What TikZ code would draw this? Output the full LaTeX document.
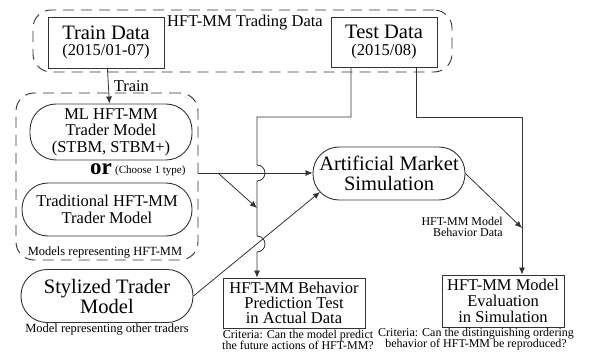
\documentclass[tikz,border=0pt]{standalone}
\usepackage{fontspec}
\setmainfont{Liberation Serif}
\usetikzlibrary{arrows.meta,positioning}
\newcommand{\tight}{\lineskiplimit=-20pt\lineskip=0pt}
\newcommand{\fbig}{\fontsize{20.5}{20}\selectfont\tight}
\newcommand{\fmid}{\fontsize{16.5}{16.5}\selectfont\tight}
\newcommand{\fsml}{\fontsize{12}{11}\selectfont\tight}
\definecolor{edge}{HTML}{333333}

\begin{document}
\begin{tikzpicture}[x=1pt, y=1pt,
  box/.style={draw=edge, line width=0.9pt, inner sep=0pt, align=center, font=\fmid},
  pill/.style={box, rounded corners=26pt},
  region/.style={draw=edge, line width=0.9pt, dash pattern=on 11pt off 7pt, rounded corners=18pt, inner sep=0pt},
  arr/.style={-{Latex[length=7pt,width=6pt]}, line width=0.8pt, draw=edge},
  lbl/.style={inner sep=0pt, align=center, font=\fsml}]
\useasboundingbox (0,0) rectangle (589,354);
% dashed groups
\node[region, minimum width=419, minimum height=62] (trading) at (242.5,313) {};
\node[region, minimum width=182, minimum height=167] (models) at (107,177.5) {};
% data boxes
\node[box, minimum width=116, minimum height=51] (train) at (106,311.5) {{\fbig Train Data}\\(2015/01-07)};
\node[box, minimum width=106, minimum height=50] (test) at (384,312) {{\fbig Test Data}\\(2015/08)};
\node[lbl, font=\fmid, anchor=base west] (tradinglbl) at (167,327) {HFT-MM Trading Data};
% trader models
\node[pill, minimum width=162, minimum height=56] (ml) at (111,222) {ML HFT-MM\\Trader Model\\(STBM, STBM+)};
\node[pill, minimum width=170, minimum height=53] (trad) at (107,144.5) {Traditional HFT-MM\\Trader Model};
\node[lbl, anchor=base west, font=\fontsize{23}{23}\selectfont\bfseries] (or) at (90,179) {or};
\node[lbl, anchor=base west, font=\fontsize{11}{11}\selectfont] (choose) at (115,180) {(Choose 1 type)};
\node[lbl, anchor=base, font=\fontsize{12.5}{12}\selectfont] (modelslbl) at (105,99) {Models representing HFT-MM};
\node[pill, minimum width=172, minimum height=53, font=\fbig] (sty) at (107,58) {Stylized Trader\\Model};
\node[lbl, below=1pt of sty, font=\fontsize{12.5}{12}\selectfont] (otherlbl) {Model representing other traders};
% simulation and tests
\node[pill, minimum width=152, minimum height=53, font=\fbig] (ams) at (389,180.5) {Artificial Market\\Simulation};
\node[box, minimum width=142, minimum height=50, font=\fontsize{16.5}{15}\selectfont\tight] (pred) at (294,51) {HFT-MM Behavior\\Prediction Test\\in Actual Data};
\node[lbl] (crit1) at (298,14) {Criteria: Can the model predict\\the future actions of HFT-MM?};
\node[box, minimum width=122, minimum height=52, font=\fontsize{16.5}{16}\selectfont\tight] (eval) at (503,53) {HFT-MM Model\\Evaluation\\in Simulation};
\node[lbl] (crit2) at (476,14.5) {Criteria: Can the distinguishing ordering\\behavior of HFT-MM be reproduced?};
\node[lbl, align=right, anchor=east] (bhvlbl) at (503,127.5) {HFT-MM Model\\Behavior Data};
% connectors
\coordinate (lft) at (257,237);
\coordinate (rgt) at (522,237);
\coordinate (fork) at (218,181);
\coordinate (merge) at (257,146);
\coordinate (bhv) at (522,126);
\draw[arr] (train) -- (ml) node[lbl, font=\fmid, midway, right=5pt] (trainlbl) {Train};
\draw[arr] ([xshift=-33pt]test.south) |- (lft) -- (257,189) arc[start angle=90, end angle=-90, radius=8]
  -- (257,118) arc[start angle=90, end angle=-90, radius=8] -- (lft |- pred.north);
\draw[arr] ([xshift=32pt]test.south) |- (rgt) -- (rgt |- eval.north);
\draw[arr] (models.east |- fork) -- (fork -| ams.west);
\draw[arr] (fork) -- (merge);
\draw[arr] (sty.east) -- ([shift={(-69,-18.5)}]ams.center);
\draw[arr] (ams.east) -- (bhv);
\end{tikzpicture}
\end{document}
